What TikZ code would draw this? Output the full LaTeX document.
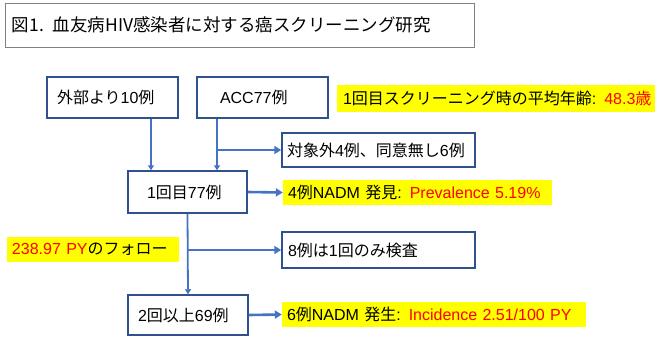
\documentclass[tikz,border=0pt]{standalone}
\usepackage{fontspec}
\setmainfont{Liberation Sans}
\newfontfamily\jp{Noto Sans CJK JP}
\newcommand\J[1]{{\jp #1}}
\usetikzlibrary{arrows.meta}
\definecolor{boxblue}{HTML}{2F528F}
\definecolor{arrblue}{HTML}{4472C4}
\definecolor{hl}{HTML}{FFFF00}
\definecolor{rd}{HTML}{FF0000}
\begin{document}
\begin{tikzpicture}[x=1pt,y=-1pt, font=\fontsize{16}{19}\selectfont,
 box/.style={draw=boxblue, line width=1.5pt, align=left, inner ysep=0pt},
 hlt/.style={fill=hl, align=left, inner ysep=0pt},
 varr/.style={draw=arrblue, line width=1.8pt, -{Triangle[length=5pt,width=6pt]}},
 harr/.style={draw=arrblue, line width=2.6pt, -{Triangle[length=7pt,width=8pt]}}]
\useasboundingbox (0,0) rectangle (657,338);
\node[draw=gray, line width=0.8pt, font=\jp\fontsize{17.5}{20}\selectfont, text width=455pt, inner xsep=7pt, inner ysep=0pt, minimum height=44pt, align=left] (title) at (239.5,25) {\mbox{図1. 血友病HIV感染者に対する癌スクリーニング研究}};
\node[box, text width=111pt, inner xsep=10pt, minimum height=41pt] (ext) at (112.5,97.5) {\mbox{\J{外部より}10\J{例}}};
\node[box, text width=85pt, inner xsep=23pt, minimum height=41pt] (acc) at (262.5,97.5) {\mbox{ACC77\J{例}}};
\node[box, text width=183pt, inner xsep=5pt, minimum height=34pt] (ex) at (378.5,150) {\mbox{\J{対象外}4\J{例、同意無し}6\J{例}}};
\node[box, text width=81pt, inner xsep=19pt, minimum height=42pt] (one) at (187.5,192) {\mbox{1\J{回目}77\J{例}}};
\node[box, text width=181pt, inner xsep=6pt, minimum height=36pt] (eight) at (378.5,250) {\mbox{8\J{例は}1\J{回のみ検査}}};
\node[box, text width=100pt, inner xsep=10pt, minimum height=40pt] (two) at (188,315) {\mbox{2\J{回以上}69\J{例}}};
\node[hlt, text width=306pt, inner xsep=6pt, minimum height=27pt] (age) at (496,98.5) {\mbox{1\J{回目スクリーニング時の平均年齢}: \textcolor{rd}{48.3\J{歳}}}};
\node[hlt, text width=259pt, inner xsep=5pt, minimum height=25pt] (prev) at (417.5,192.5) {\mbox{4\J{例}NADM \J{発見}: \textcolor{rd}{Prevalence 5.19\%}}};
\node[hlt, text width=162pt, inner xsep=5pt, minimum height=25pt] (py) at (93,249.5) {\mbox{\textcolor{rd}{238.97 PY}\J{のフォロー}}};
\node[hlt, text width=294pt, inner xsep=5pt, minimum height=25pt] (inc) at (434,314.5) {\mbox{6\J{例}NADM \J{発生}: \textcolor{rd}{Incidence 2.51/100 PY}}};
\draw[varr] ([xshift=38.5pt]ext.south) -- ([xshift=38.5pt]ext.south |- one.north);
\draw[varr] ([xshift=-45.5pt]acc.south) -- ([xshift=-45.5pt]acc.south |- one.north);
\draw[harr] ([xshift=-45.5pt]acc.south |- ex.west) -- (ex.west);
\draw[harr] (one.east) -- (prev.west);
\draw[varr] (one.south) -- (two.north);
\draw[harr] (one.south |- eight.west) -- (eight.west);
\draw[harr] (two.east) -- (inc.west);
\end{tikzpicture}
\end{document}
